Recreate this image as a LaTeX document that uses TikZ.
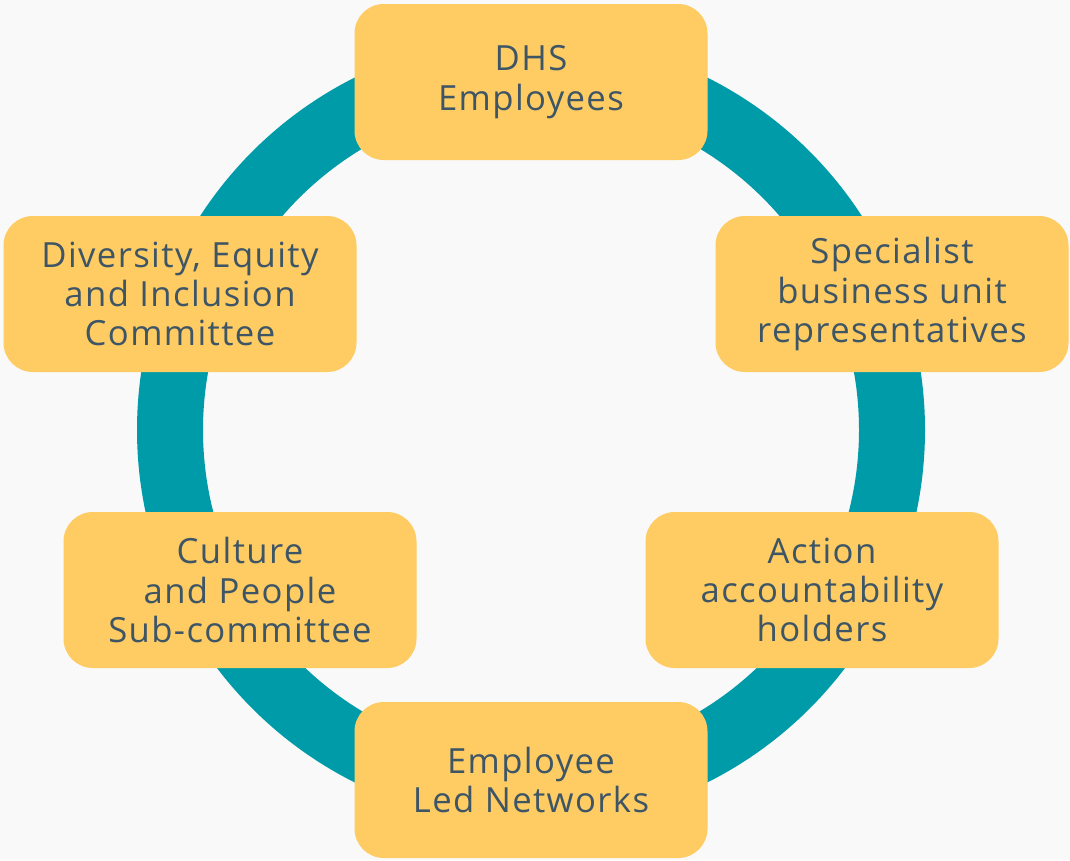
\documentclass[tikz,border=0pt]{standalone}
\usepackage{fontspec}
\setmainfont[LetterSpace=4]{Open Sans}
\usepackage{tikz}
\usepackage{xcolor}
\definecolor{ringteal}{HTML}{009BA8}
\definecolor{boxyellow}{HTML}{FECC63}
\definecolor{slate}{HTML}{3E5566}
\definecolor{paper}{HTML}{F9F9F9}

\begin{document}
\begin{tikzpicture}[x=0.75pt,y=-0.75pt,
  group/.style={fill=boxyellow, rounded corners=22pt, minimum width=264.75pt, minimum height=117pt,
    align=center, text=slate, font=\fontsize{26pt}{29.5pt}\selectfont, inner sep=0pt}]
\fill [paper] (0,0) rectangle (1070,860);
\useasboundingbox (0,0) rectangle (1070,860);

\draw [ringteal, line width=49.5pt] (531,430) circle (361*0.75pt);

\node [group] (dhs) at (531,82) {DHS\\Employees};
\node [group] (spec) at (892,294) {Specialist\\business unit\\representatives};
\node [group] (dei) at (180,294) {Diversity, Equity\\and Inclusion\\Committee};
\node [group] (cult) at (240,590) {Culture\\and People\\Sub-committee};
\node [group] (act) at (822,590) {Action\\accountability\\holders};
\node [group] (eln) at (531,780) {Employee\\Led Networks};

\end{tikzpicture}
\end{document}
